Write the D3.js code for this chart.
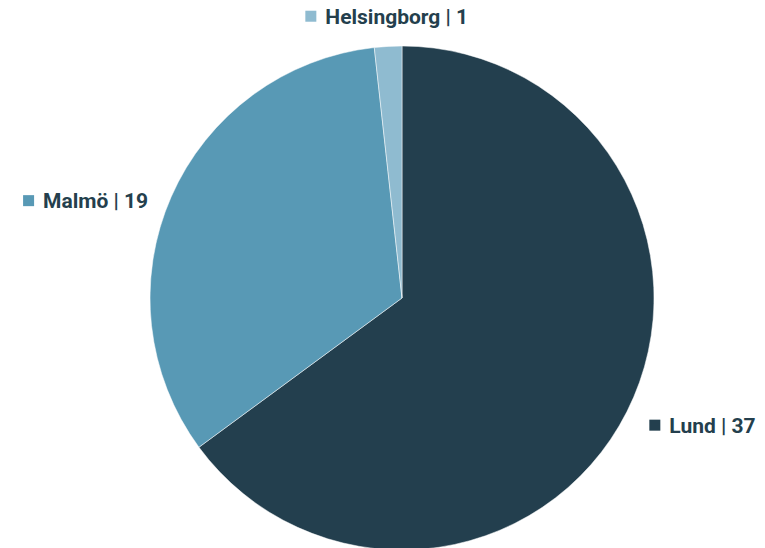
<!DOCTYPE html>
<html>
<head>
<meta charset="utf-8">
<script src="https://cdn.jsdelivr.net/npm/d3@7"></script>
<style>
  html, body { margin: 0; padding: 0; background: #fff; }
  svg { display: block; font-family: Roboto, "Noto Sans", sans-serif; }
</style>
</head>
<body>
<svg id="chart"></svg>
<script>
const cities = ['Lund', 'Malmö', 'Helsingborg'];
const counts = [37, 19, 1];
const colors = ['#233f4e', '#5899b5', '#8fbbd0'];

(() => {
  const dim = { w: 765, h: 548, cx: 402, cy: 298, r: 252 },
    $svg = d3.select('#chart')
      .attr('width', dim.w)
      .attr('height', dim.h)
      .attr('viewBox', '0 0 ' + dim.w + ' ' + dim.h);

  const rows = cities.map((c, i) => ({ city: c, value: counts[i], color: colors[i] }));
  const arcs = d3.pie().sort(null).value((d) => d.value)(rows);
  const arc = d3.arc().innerRadius(0).outerRadius(dim.r);

  const g = $svg.append('g')
    .attr('transform', 'translate(' + dim.cx + ',' + dim.cy + ')');

  g.selectAll('path.slice')
    .data(arcs)
    .enter()
    .append('path')
    .attr('class', 'slice')
    .attr('d', arc)
    .attr('fill', (d) => d.data.color)
    .attr('stroke', '#fff')
    .attr('stroke-width', 0.5);

  // labels sit just outside the slice middle
  const labelR = dim.r * 1.1,
    fontSize = 21,
    sq = 11,
    gap = 9;
  arcs.forEach((d) => {
    const mid = (d.startAngle + d.endAngle) / 2;
    var x = Math.sin(mid) * labelR,
      y = -Math.cos(mid) * labelR;
    var anchor = 'start';
    if (Math.abs(x) < 40) { anchor = 'middle'; y -= 5; }
    else if (x < 0) { anchor = 'end'; y += 14; }
    else { y += 2; }
    const label = g.append('g').attr('transform', 'translate(' + x + ',' + y + ')');
    const txt = label.append('text')
      .text(d.data.city + ' | ' + d.data.value)
      .attr('font-size', fontSize)
      .attr('font-weight', 700)
      .attr('fill', '#243f4d')
      .attr('dy', '0.35em');
    const tw = txt.node().getComputedTextLength(),
      total = sq + gap + tw;
    var x0 = anchor == 'middle' ? -total / 2 : (anchor == 'end' ? -total : 0);
    label.append('rect')
      .attr('x', x0)
      .attr('y', -sq / 2)
      .attr('width', sq)
      .attr('height', sq)
      .attr('fill', d.data.color);
    txt.attr('x', x0 + sq + gap);
  });
})();
</script>
</body>
</html>
